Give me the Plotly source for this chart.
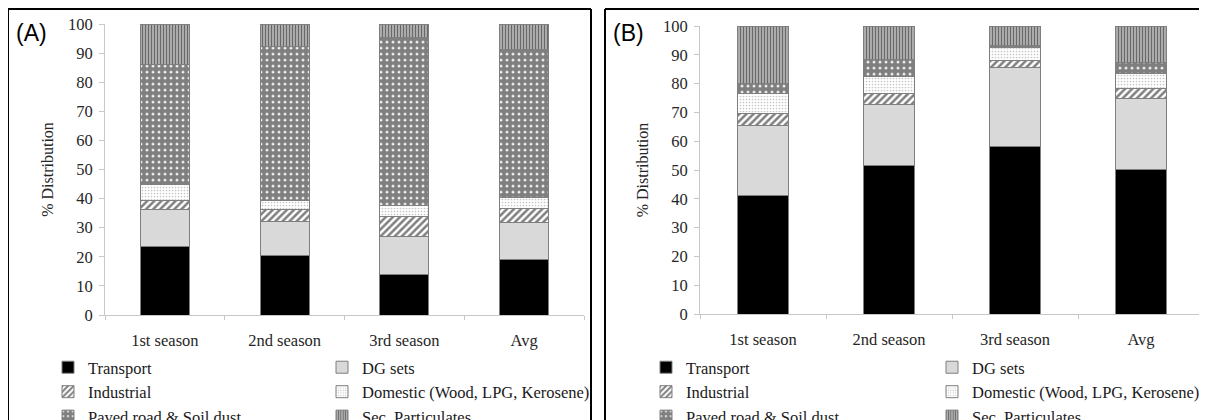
import plotly.graph_objects as go

# The page body adds an 8 px margin, so the figure is drawn 8 px smaller
# and all reference pixel positions are shifted by that offset.
OFF = 8
W, H = 1207 - OFF, 420 - OFF

categories = ["1st season", "2nd season", "3rd season", "Avg"]
sources = ["Transport", "DG sets", "Industrial", "Domestic (Wood, LPG, Kerosene)",
           "Paved road & Soil dust", "Sec. Particulates"]
y_ticks = [0, 10, 20, 30, 40, 50, 60, 70, 80, 90, 100]

# Panel (A) values (% distribution)
transport_a = [23.5, 20.4, 14.0, 19.2]
dg_a = [12.9, 11.7, 12.9, 12.5]
industrial_a = [3.1, 4.0, 7.1, 5.0]
domestic_a = [5.5, 3.1, 3.6, 3.7]
paved_a = [41.2, 53.0, 57.7, 50.7]
sec_a = [13.8, 7.8, 4.7, 8.9]

# Panel (B) values (% distribution)
transport_b = [41.0, 51.5, 58.3, 50.2]
dg_b = [24.3, 21.2, 27.2, 24.5]
industrial_b = [4.4, 3.9, 2.5, 3.7]
domestic_b = [6.9, 6.0, 4.6, 5.0]
paved_b = [3.5, 5.8, 0.8, 4.0]
sec_b = [19.9, 11.6, 6.6, 12.6]

panel_a = [transport_a, dg_a, industrial_a, domestic_a, paved_a, sec_a]
panel_b = [transport_b, dg_b, industrial_b, domestic_b, paved_b, sec_b]

styles = [
    dict(color="black", pattern=dict(shape="")),
    dict(color="#d9d9d9", pattern=dict(shape="")),
    dict(color="white", pattern=dict(shape="/", fgcolor="black", bgcolor="white", size=5, solidity=0.5)),
    dict(color="white", pattern=dict(shape=".", fgcolor="#8c8c8c", bgcolor="white", size=3, solidity=0.25)),
    dict(color="white", pattern=dict(shape=".", fgcolor="black", bgcolor="white", size=6, solidity=0.8)),
    dict(color="#b0b0b0", pattern=dict(shape="|", fgcolor="#111111", bgcolor="#c0c0c0", size=3, solidity=0.5)),
]


def px(x):
    return (x - OFF) / W


def py(y):
    return 1 - (y - OFF) / H


SERIF = "Liberation Serif"
FS = 16.5
fig = go.Figure()

legend_cols_a = ["legend", "legend2", "legend", "legend2", "legend", "legend2"]
legend_cols_b = ["legend3", "legend4", "legend3", "legend4", "legend3", "legend4"]

for i, name in enumerate(sources):
    st = styles[i]
    fig.add_trace(go.Bar(
        x=categories, y=panel_a[i], name=name, xaxis="x", yaxis="y",
        legend=legend_cols_a[i], width=0.41,
        marker=dict(color=st["color"], pattern=st["pattern"], line=dict(color="#7f7f7f", width=1)),
    ))
for i, name in enumerate(sources):
    st = styles[i]
    fig.add_trace(go.Bar(
        x=categories, y=panel_b[i], name=name, xaxis="x2", yaxis="y2",
        legend=legend_cols_b[i], width=0.41,
        marker=dict(color=st["color"], pattern=st["pattern"], line=dict(color="#7f7f7f", width=1)),
    ))

axis_common_x = dict(
    type="category", showline=True, linecolor="#c8c8c8", linewidth=1,
    ticks="outside", tickson="boundaries", ticklen=4, tickcolor="#c8c8c8",
    tickfont=dict(family=SERIF, size=FS, color="#262626"), ticklabelstandoff=10,
    showgrid=False, zeroline=False, fixedrange=True,
)
axis_common_y = dict(
    range=[0, 100], tickvals=y_ticks, showline=True, linecolor="#c8c8c8", linewidth=1,
    ticks="outside", ticklen=5, tickcolor="#c8c8c8",
    tickfont=dict(family=SERIF, size=FS, color="#262626"), ticklabelstandoff=3,
    showgrid=False, zeroline=False, fixedrange=True,
    title=dict(text="% Distribution", font=dict(family=SERIF, size=16, color="#262626"), standoff=10),
)

legend_common = dict(
    orientation="v", traceorder="normal", bgcolor="rgba(0,0,0,0)",
    font=dict(family=SERIF, size=FS, color="#1a1a1a"), xanchor="left", yanchor="top",
    itemwidth=30, itemclick=False, itemdoubleclick=False,
)

border = dict(color="black", width=2)

fig.update_layout(
    width=W, height=H, margin=dict(l=0, r=0, t=0, b=0, autoexpand=False),
    plot_bgcolor="white", paper_bgcolor="white",
    barmode="stack", showlegend=True,
    xaxis=dict(domain=[px(105), px(584)], anchor="y", **axis_common_x),
    yaxis=dict(domain=[py(315), py(24)], anchor="x", **axis_common_y),
    xaxis2=dict(domain=[px(700), px(1204)], anchor="y2", **axis_common_x),
    yaxis2=dict(domain=[py(314), py(26)], anchor="x2", **axis_common_y),
    legend=dict(x=px(48), y=py(350), **legend_common),
    legend2=dict(x=px(322), y=py(350), **legend_common),
    legend3=dict(x=px(646), y=py(350), **legend_common),
    legend4=dict(x=px(932), y=py(350), **legend_common),
    annotations=[
        dict(text="(A)", x=px(14), y=py(33), xref="paper", yref="paper", xanchor="left",
             yanchor="middle", showarrow=False, font=dict(family="Liberation Sans", size=23, color="black")),
        dict(text="(B)", x=px(611), y=py(33), xref="paper", yref="paper", xanchor="left",
             yanchor="middle", showarrow=False, font=dict(family="Liberation Sans", size=23, color="black")),
    ],
    shapes=[
        dict(type="line", xref="paper", yref="paper", x0=px(7), x1=px(591), y0=py(9), y1=py(9), line=border),
        dict(type="line", xref="paper", yref="paper", x0=px(8), x1=px(8), y0=py(9), y1=py(440), line=border),
        dict(type="line", xref="paper", yref="paper", x0=px(591), x1=px(591), y0=py(9), y1=py(440), line=border),
        dict(type="line", xref="paper", yref="paper", x0=px(605), x1=px(1210), y0=py(9), y1=py(9), line=border),
        dict(type="line", xref="paper", yref="paper", x0=px(605), x1=px(605), y0=py(9), y1=py(440), line=border),
    ],
)

fig.write_html("out.html")
